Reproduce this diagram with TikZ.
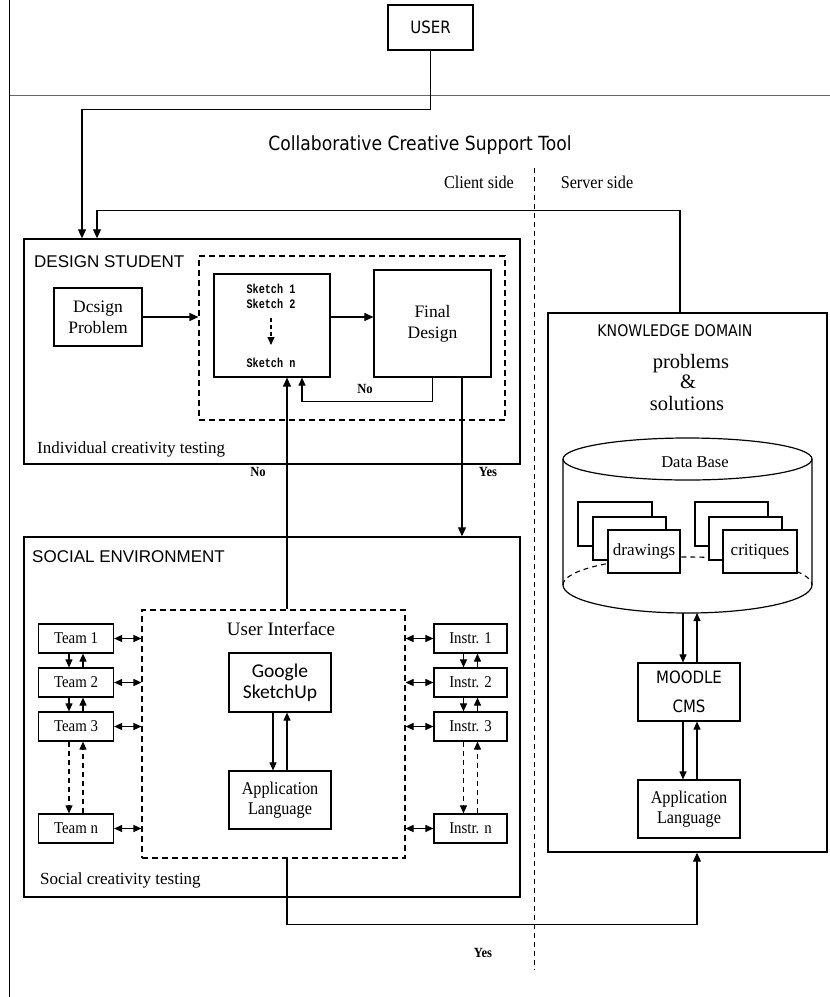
\documentclass[tikz,border=0pt]{standalone}
\usepackage{fontspec}
\setmainfont{Liberation Serif}
\newfontfamily\arialf{Liberation Sans}
\newfontfamily\tahomaf[FakeStretch=0.88]{DejaVu Sans}
\newfontfamily\calibf{Carlito}
\newfontfamily\narrowserif[FakeStretch=0.9]{Liberation Serif}
\newfontfamily\skfont[FakeStretch=0.78]{Liberation Mono}
\usetikzlibrary{arrows.meta,calc}
\newcommand{\myfs}[2]{\fontsize{#1}{#2}\selectfont}
\begin{document}
\begin{tikzpicture}[x=1pt,y=-1pt,
  box/.style={draw, line width=1.2pt, inner sep=0pt, align=center, fill=white},
  frame/.style={draw, line width=1.4pt, inner sep=0pt},
  dbox/.style={draw, line width=1.1pt, dash pattern=on 6pt off 4pt, inner sep=0pt},
  arr/.style={line width=1.1pt, -{Triangle[length=9pt,width=8pt]}},
  sarr/.style={line width=1.1pt, -{Triangle[length=8pt,width=7pt]}},
  darr/.style={line width=1.1pt, {Triangle[length=8pt,width=7pt]}-{Triangle[length=8pt,width=7pt]}},
  dsh/.style={dash pattern=on 5pt off 4pt},
  lbl/.style={inner sep=0pt},
  team/.style={box, minimum width=75, minimum height=29, font=\narrowserif\myfs{16.5}{18}},
  instr/.style={box, minimum width=73, minimum height=29, font=\narrowserif\myfs{16.5}{18}},
  appl/.style={box, minimum width=102, minimum height=58, font=\narrowserif\myfs{18}{19.5}},
  yn/.style={lbl, font=\narrowserif\bfseries\myfs{14}{15}},
  sk/.style={lbl, anchor=base, font=\skfont\bfseries\myfs{13}{15}},
  stk/.style={box, line width=1.1pt, font=\myfs{17}{19}}
]
\useasboundingbox (0,0) rectangle (830,997);

% outer lines
\coordinate (ltop) at (9.5,0);
\coordinate (lbot) at (9.5,997);
\coordinate (hl) at (9.5,95);
\coordinate (hr) at (830,95);
\draw[line width=1.2pt] (ltop) -- (lbot);
\draw[line width=0.8pt, black!60] (hl) -- (hr);

% user and title
\node[box, minimum width=85, minimum height=45, font=\tahomaf\myfs{17}{19}] (user) at (430.5,27.5) {USER};
\node[lbl, anchor=base, font=\tahomaf\myfs{19.5}{21}] (title) at (420,150) {Collaborative Creative Support Tool};
\node[lbl, anchor=base, font=\narrowserif\myfs{18}{20}] (client) at (479,188) {Client side};
\node[lbl, anchor=base, font=\narrowserif\myfs{18}{20}] (server) at (597,188) {Server side};
\coordinate (dvt) at (534,168);
\coordinate (dvb) at (534,970);
\draw[line width=1pt, dsh] (dvt) -- (dvb);

% frames
\node[frame, minimum width=496, minimum height=225] (ds) at (272,351.5) {};
\node[frame, minimum width=496, minimum height=360] (se) at (272,717) {};
\node[frame, minimum width=279, minimum height=539] (kd) at (687.5,582.5) {};
\node[dbox, minimum width=306, minimum height=164] (dsd) at (352,338) {};
\node[dbox, minimum width=263, minimum height=248] (ui) at (273.5,734) {};

% design student
\node[lbl, anchor=base west, font=\arialf\myfs{17}{19}] (dslbl) at (34,267) {DESIGN STUDENT};
\node[lbl, anchor=base west, font=\myfs{17}{19}] (ictl) at (37,453) {Individual creativity testing};
\node[box, minimum width=88, minimum height=58, font=\myfs{17.5}{21}] (dp) at (98,317) {Dcsign\\Problem};
\node[box, minimum width=116, minimum height=103] (skb) at (272,325.5) {};
\node[sk] (s1) at (271,293) {Sketch 1};
\node[sk] (s2) at (271,308) {Sketch 2};
\node[sk] (sn) at (271,367) {Sketch n};
\draw[sarr, dash pattern=on 4pt off 3pt] ([yshift=-10pt]s2.base) -- ([yshift=-37pt]s2.base);
\node[box, minimum width=117, minimum height=107, font=\myfs{17.5}{21}] (fin) at (432.5,323.5) {Final\\Design};

\draw[arr] (dp.east) -- (dp.east -| dsd.west);
\coordinate (skr) at ([yshift=8.5pt]skb.east);
\draw[arr] (skr) -- (skr -| fin.west);
\coordinate (noin) at ([xshift=30pt]skb.south);
\draw[sarr] (fin.south) -- ++(0,24) -| (noin);
\node[yn] (no1) at (365,389) {No};

% connections between blocks
\coordinate (noup) at ([xshift=15pt]skb.south);
\draw[arr] (noup |- ui.north) -- (noup);
\node[yn] (no2) at (258,472) {No};
\coordinate (yesd) at ([xshift=29.5pt]fin.south);
\draw[arr] (yesd) -- (yesd |- se.north);
\node[yn] (yes1) at (488,472) {Yes};

\coordinate (dsin1) at ([xshift=-190pt]ds.north);
\draw[arr] (user.south) -- ++(0,59) -| (dsin1);
\coordinate (kdout) at ([xshift=-7.5pt]kd.north);
\coordinate (dsin2) at ([xshift=-175pt]ds.north);
\draw[arr] (kdout) -- ++(0,-102) -| (dsin2);

% social environment
\node[lbl, anchor=base west, font=\arialf\myfs{17}{19}] (selbl) at (32,562) {SOCIAL ENVIRONMENT};
\node[lbl, anchor=base west, font=\myfs{17}{19}] (sctl) at (40,884) {Social creativity testing};
\node[lbl, anchor=base, font=\myfs{19}{20}] (uilbl) at (281,635) {User Interface};
\node[box, minimum width=102, minimum height=59, font=\calibf\myfs{19.5}{21}] (gs) at (280,682.5) {Google\\SketchUp};
\node[appl] (al) at (280,800) {Application\\Language};
\draw[sarr] ([xshift=-7pt]gs.south) -- ([xshift=-7pt]al.north);
\draw[sarr] ([xshift=7pt]al.north) -- ([xshift=7pt]gs.south);

\node[team] (t1) at (76,638.5) {Team 1};
\node[team] (t2) at (76,682.5) {Team 2};
\node[team] (t3) at (76,726.5) {Team 3};
\node[team] (tn) at (76,828.5) {Team n};
\node[instr] (i1) at (470.5,638.5) {Instr. 1};
\node[instr] (i2) at (470.5,682.5) {Instr. 2};
\node[instr] (i3) at (470.5,726.5) {Instr. 3};
\node[instr] (in) at (470.5,828.5) {Instr. n};

\foreach \a/\b in {t1/t2, t2/t3, i1/i2, i2/i3}{
  \draw[sarr] ([xshift=-7pt]\a.south) -- ([xshift=-7pt]\b.north);
  \draw[sarr] ([xshift=7pt]\b.north) -- ([xshift=7pt]\a.south);
}
\foreach \a/\b in {t3/tn, i3/in}{
  \draw[sarr, dsh] ([xshift=-7pt]\a.south) -- ([xshift=-7pt]\b.north);
  \draw[sarr, dsh] ([xshift=7pt]\b.north) -- ([xshift=7pt]\a.south);
}
\foreach \t in {t1,t2,t3,tn}{
  \draw[darr] (\t.east) -- (\t.east -| ui.west);
}
\foreach \t in {i1,i2,i3,in}{
  \draw[darr] (\t.west) -- (\t.west -| ui.east);
}

\coordinate (yb) at ([xshift=13.5pt]ui.south);
\coordinate (kdin) at ([xshift=9.5pt]kd.south);
\draw[arr] (yb) -- ++(0,66) -| (kdin);
\node[yn] (yes2) at (483,953) {Yes};

% knowledge domain
\node[lbl, anchor=base, font=\tahomaf\myfs{16}{18}] (kdlbl) at (675,336) {KNOWLEDGE DOMAIN};
\node[lbl, anchor=base, font=\myfs{20.5}{21}] (pr) at (691,368) {problems};
\node[lbl, anchor=base, font=\myfs{20.5}{21}] (amp) at (688,388) {\&};
\node[lbl, anchor=base, font=\myfs{20.5}{21}] (sol) at (687,410) {solutions};

% database cylinder
\draw[line width=1.1pt, dsh] (563,585) .. controls (563,569.5) and (618.7,557) .. (687.5,557)
  .. controls (756.3,557) and (812,569.5) .. (812,585);
\draw[line width=1.2pt] (563,459) -- (563,585) .. controls (563,600.5) and (618.7,613) .. (687.5,613)
  .. controls (756.3,613) and (812,600.5) .. (812,585) -- (812,459);
\draw[line width=1.2pt] (687.5,459) ellipse [x radius=124.5, y radius=21];
\node[lbl, anchor=base, font=\myfs{16.5}{18}] (dblbl) at (695,467) {Data Base};
\coordinate (dbbot) at (687.5,613);

\node[stk, minimum width=74, minimum height=44] (dr1) at (615,524) {};
\node[stk, minimum width=73, minimum height=43] (dr2) at (629.5,538.5) {};
\node[stk, minimum width=72, minimum height=43] (dr3) at (644,551.5) {drawings};
\node[stk, minimum width=73, minimum height=44] (cr1) at (731.5,524) {};
\node[stk, minimum width=73, minimum height=43] (cr2) at (745.5,538.5) {};
\node[stk, minimum width=74, minimum height=43] (cr3) at (760,551.5) {critiques};

\node[box, minimum width=102, minimum height=58, font=\tahomaf\myfs{17}{29}] (moodle) at (689,692) {MOODLE\\CMS};
\node[appl] (al2) at (689,809) {Application\\Language};
\coordinate (md) at ([xshift=-6pt]moodle.north);
\coordinate (mu) at ([xshift=8pt]moodle.north);
\draw[sarr] (md |- dbbot) -- (md);
\draw[sarr] (mu) -- (mu |- dbbot);
\draw[sarr] ([xshift=-6pt]moodle.south) -- ([xshift=-6pt]al2.north);
\draw[sarr] ([xshift=8pt]al2.north) -- ([xshift=8pt]moodle.south);
\end{tikzpicture}
\end{document}
